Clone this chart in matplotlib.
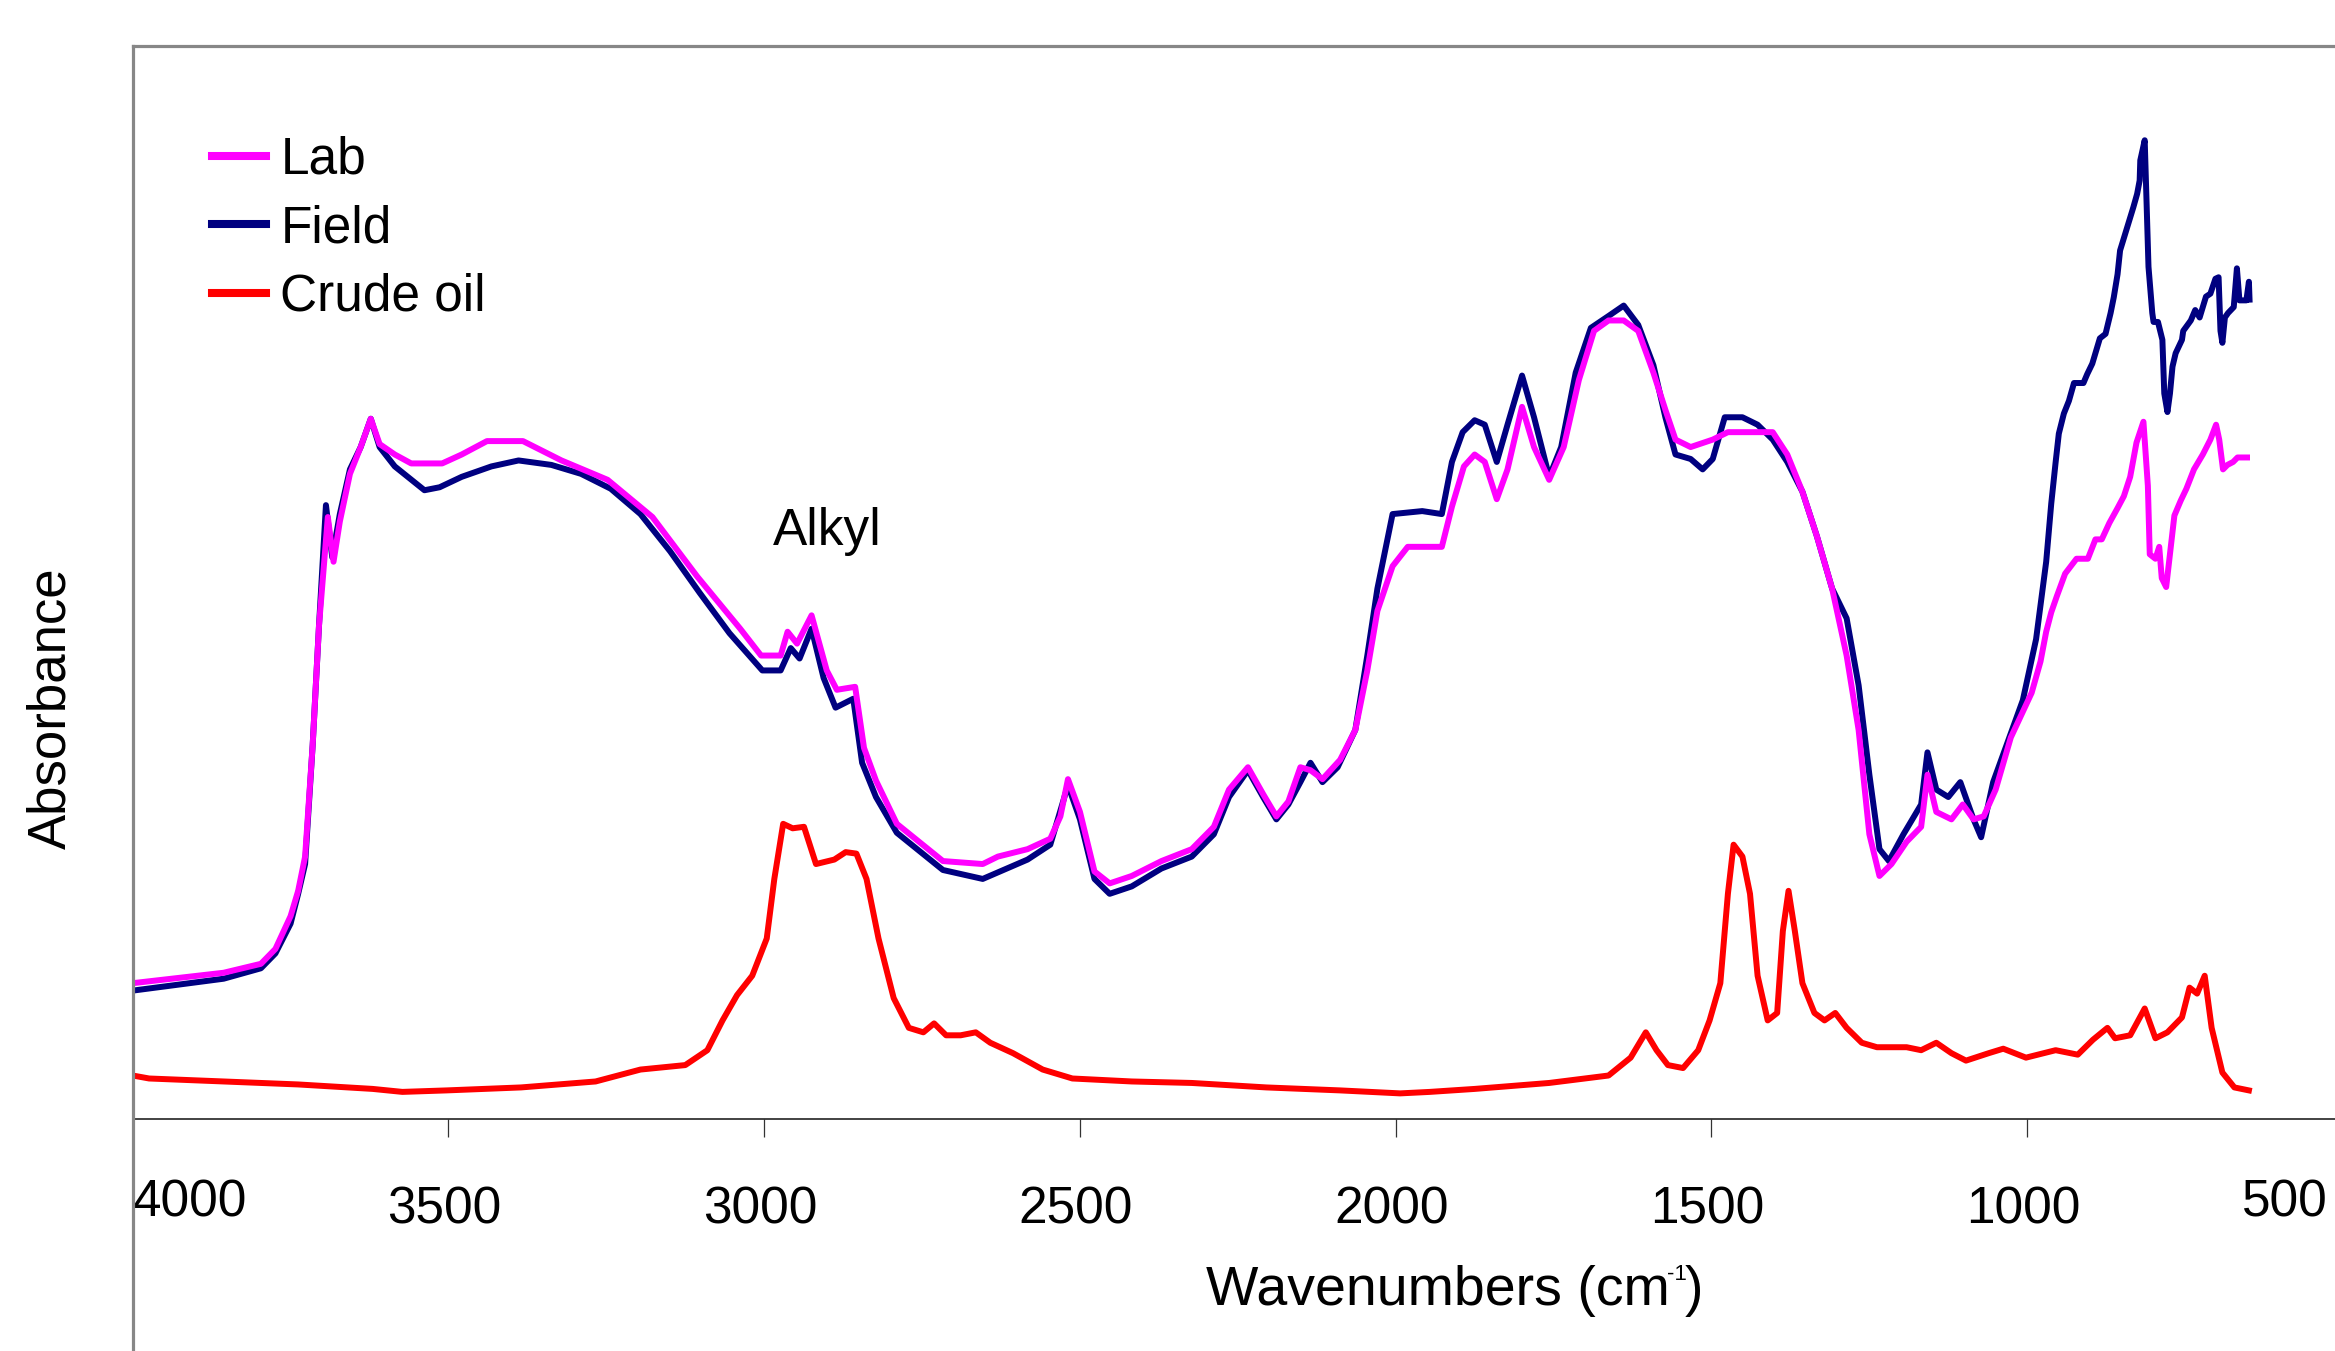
import matplotlib
matplotlib.use('Agg')
import matplotlib.pyplot as plt
from matplotlib.lines import Line2D
from matplotlib import transforms

plt.rcParams['font.family'] = ['Liberation Sans', 'DejaVu Sans']

# ---------------- data ----------------
field_wn = [4000, 3856, 3797, 3774, 3750, 3738, 3727, 3715, 3705, 3694, 3684, 3672, 3656, 3639, 3623, 3609, 3585,
            3538, 3514, 3479, 3432, 3389, 3337, 3290, 3243, 3196, 3149, 3102, 3055, 3003, 2974, 2958, 2944, 2925,
            2906, 2887, 2859, 2845, 2823, 2790, 2717, 2654, 2583, 2547, 2519, 2500, 2477, 2453, 2418, 2371, 2323,
            2288, 2264, 2234, 2210, 2189, 2170, 2151, 2135, 2116, 2092, 2064, 2045, 2029, 2005, 1958, 1927, 1911,
            1894, 1875, 1859, 1840, 1823, 1800, 1781, 1757, 1738, 1715, 1691, 1663, 1639, 1616, 1592, 1573, 1557,
            1533, 1514, 1498, 1479, 1451, 1427, 1403, 1380, 1356, 1333, 1309, 1286, 1267, 1250, 1234, 1219, 1196,
            1168, 1158, 1144, 1125, 1106, 1085, 1073, 1054,
            1007, 986, 970, 962, 955, 950, 942, 934, 926, 911, 905, 897, 892, 885, 876, 868, 863, 857, 853, 845,
            840, 832, 826, 822, 821, 814, 808, 802, 800, 793, 786, 783, 778, 774, 770, 765, 755, 753, 741, 734,
            727, 717, 710, 702, 697, 694, 691, 687, 682, 673, 668, 664, 653, 649, 648]
field_ab = [0.086, 0.094, 0.101, 0.111, 0.131, 0.151, 0.171, 0.251, 0.331, 0.412, 0.377, 0.406, 0.436, 0.451, 0.470,
            0.451, 0.438, 0.422, 0.424, 0.431, 0.438, 0.442, 0.439, 0.433, 0.423, 0.406, 0.381, 0.353, 0.326, 0.301,
            0.301, 0.316, 0.309, 0.329, 0.296, 0.276, 0.282, 0.239, 0.216, 0.192, 0.167, 0.161, 0.174, 0.184, 0.224,
            0.201, 0.161, 0.151, 0.156, 0.168, 0.176, 0.191, 0.216, 0.234, 0.216, 0.201, 0.211, 0.226, 0.239, 0.226,
            0.236, 0.261, 0.311, 0.356, 0.406, 0.408, 0.406, 0.441, 0.461, 0.469, 0.466, 0.441, 0.466, 0.499, 0.471,
            0.431, 0.451, 0.501, 0.531, 0.539, 0.546, 0.533, 0.506, 0.471, 0.446, 0.443, 0.436, 0.443, 0.471, 0.471,
            0.466, 0.456, 0.441, 0.421, 0.391, 0.356, 0.336, 0.291, 0.231, 0.181, 0.173, 0.191, 0.211, 0.246, 0.221,
            0.216, 0.226, 0.201, 0.189, 0.226,
            0.281, 0.322, 0.374, 0.413, 0.441, 0.460, 0.4735, 0.482, 0.494, 0.494, 0.500, 0.507, 0.514, 0.524, 0.527,
            0.541, 0.5515, 0.567, 0.583, 0.594, 0.601, 0.612, 0.621, 0.630, 0.6435, 0.657, 0.572, 0.541, 0.535, 0.535,
            0.523, 0.487, 0.4745, 0.487, 0.505, 0.514, 0.523, 0.529, 0.536, 0.543, 0.538, 0.552, 0.554, 0.564, 0.565,
            0.529, 0.521, 0.538, 0.541, 0.545, 0.571, 0.5495, 0.5495, 0.562, 0.550]

lab_wn = [4000, 3856, 3797, 3774, 3750, 3738, 3727, 3715, 3705, 3691, 3682, 3672, 3656, 3639, 3623, 3609, 3585, 3559,
          3510, 3479, 3439, 3382, 3321, 3248, 3177, 3106, 3038, 3005, 2974, 2963, 2948, 2925, 2901, 2885, 2856, 2842,
          2823, 2790, 2717, 2654, 2630, 2583, 2547, 2531, 2519, 2500, 2477, 2453, 2418, 2371, 2323, 2288, 2264, 2234,
          2210, 2189, 2170, 2151, 2135, 2116, 2088, 2064, 2045, 2029, 2005, 1981, 1927, 1911, 1892, 1875, 1859, 1840,
          1823, 1800, 1781, 1757, 1734, 1710, 1686, 1663, 1639, 1616, 1592, 1573, 1557, 1533, 1498, 1474, 1403, 1380,
          1356, 1333, 1309, 1286, 1267, 1250, 1234, 1215, 1191, 1168, 1158, 1144, 1120, 1102, 1085, 1069, 1050, 1026,
          993, 979, 970, 962, 953, 940, 922, 904, 892, 882, 870, 857, 847, 837, 827, 816, 809, 806, 797, 791, 787,
          780, 774, 767, 757, 748, 736, 722, 710, 701, 696, 690, 683, 674, 667, 652]
lab_ab = [0.091, 0.098, 0.104, 0.114, 0.136, 0.153, 0.176, 0.251, 0.331, 0.404, 0.374, 0.401, 0.433, 0.451, 0.470,
          0.453, 0.446, 0.440, 0.440, 0.446, 0.455, 0.455, 0.442, 0.429, 0.404, 0.364, 0.329, 0.311, 0.311, 0.327,
          0.319, 0.338, 0.301, 0.288, 0.290, 0.249, 0.227, 0.198, 0.173, 0.171, 0.176, 0.181, 0.188, 0.203, 0.228,
          0.206, 0.166, 0.158, 0.163, 0.173, 0.181, 0.196, 0.221, 0.236, 0.218, 0.203, 0.213, 0.236, 0.234, 0.228,
          0.241, 0.261, 0.301, 0.341, 0.371, 0.384, 0.384, 0.411, 0.438, 0.446, 0.441, 0.416, 0.436, 0.478, 0.451,
          0.429, 0.451, 0.496, 0.529, 0.536, 0.536, 0.529, 0.501, 0.476, 0.456, 0.451, 0.456, 0.461, 0.461, 0.446,
          0.421, 0.391, 0.356, 0.311, 0.261, 0.191, 0.163, 0.171, 0.186, 0.196, 0.231, 0.206, 0.201, 0.211, 0.201,
          0.203, 0.221, 0.256, 0.286, 0.307, 0.327, 0.340, 0.351, 0.366, 0.376, 0.376, 0.389, 0.389, 0.400, 0.410,
          0.418, 0.431, 0.454, 0.468, 0.425, 0.379, 0.376, 0.384, 0.363, 0.357, 0.379, 0.405, 0.415, 0.423, 0.436,
          0.446, 0.456, 0.466, 0.456, 0.436, 0.439, 0.441, 0.444, 0.444]

crude_wn = [4000, 3974, 3856, 3738, 3620, 3573, 3503, 3385, 3267, 3196, 3125, 3090, 3066, 3043, 3019, 2996, 2984,
            2970, 2955, 2937, 2918, 2889, 2871, 2854, 2838, 2819, 2795, 2771, 2748, 2731, 2712, 2689, 2665, 2642,
            2606, 2559, 2512, 2418, 2323, 2205, 2088, 1993, 1946, 1875, 1757, 1663, 1628, 1604, 1587, 1569, 1545,
            1521, 1503, 1486, 1474, 1465, 1451, 1439, 1427, 1411, 1396, 1387, 1378, 1368, 1356, 1337, 1321, 1304,
            1286, 1262, 1238, 1191, 1168, 1144, 1120, 1097, 1061, 1038, 1002, 955, 920, 896, 873, 861, 837, 814, 797,
            778, 755, 743, 731, 719, 708, 691, 672, 649]
crude_ab = [0.029, 0.027, 0.025, 0.023, 0.020, 0.018, 0.019, 0.021, 0.025, 0.033, 0.036, 0.046, 0.066, 0.083, 0.096,
            0.121, 0.161, 0.198, 0.195, 0.196, 0.171, 0.174, 0.179, 0.178, 0.161, 0.121, 0.081, 0.061, 0.058, 0.064,
            0.056, 0.056, 0.058, 0.051, 0.044, 0.033, 0.027, 0.025, 0.024, 0.021, 0.019, 0.017, 0.018, 0.020, 0.024,
            0.029, 0.041, 0.058, 0.046, 0.036, 0.034, 0.046, 0.066, 0.091, 0.151, 0.184, 0.176, 0.151, 0.096, 0.066,
            0.071, 0.126, 0.153, 0.126, 0.091, 0.071, 0.066, 0.071, 0.061, 0.051, 0.048, 0.048, 0.046, 0.051, 0.044,
            0.039, 0.044, 0.047, 0.041, 0.046, 0.043, 0.053, 0.061, 0.054, 0.056, 0.074, 0.054, 0.058, 0.068, 0.088,
            0.084, 0.096, 0.061, 0.031, 0.021, 0.019]

tick_values = [4000, 3500, 3000, 2500, 2000, 1500, 1000, 500]
tick_labels = ['4000', '3500', '3000', '2500', '2000', '1500', '1000', '500']
series_labels = ['Lab', 'Field', 'Crude oil']
series_colors = ['#FF00FF', '#000080', '#FF0000']

# ---------------- figure ----------------
W, H = 2335, 1351
fig = plt.figure(figsize=(W / 100, H / 100), dpi=100)
ax_l = 132.7 / W
ax_r = 2343 / W
ax_b = (H - 1118.7) / H
ax_t = (H - 45.7) / H
ax = fig.add_axes([ax_l, ax_b, ax_r - ax_l, ax_t - ax_b])
ax.set_xlim(4000, 500)
ax.set_ylim(0, 0.7205)

lw = 4.3
l_crude, = ax.plot(crude_wn, crude_ab, color=series_colors[2], lw=lw, solid_joinstyle='round')
l_field, = ax.plot(field_wn, field_ab, color=series_colors[1], lw=lw, solid_joinstyle='round')
l_lab, = ax.plot(lab_wn, lab_ab, color=series_colors[0], lw=lw, solid_joinstyle='round')

gray = '#878787'
for s in ['left', 'right']:
    ax.spines[s].set_visible(False)
ax.spines['top'].set_color(gray)
ax.spines['top'].set_linewidth(2.3)
ax.spines['bottom'].set_color('#222222')
ax.spines['bottom'].set_linewidth(1.2)
fig.add_artist(Line2D([ax_l, ax_l], [0, ax_t], transform=fig.transFigure, color=gray, lw=2.3))

ax.set_xticks(tick_values)
ax.set_yticks([])
ax.tick_params(axis='x', direction='out', length=13, width=0.9, color='#333333', labelbottom=False)

xtr = ax.get_xaxis_transform()
for v, t in zip(tick_values, tick_labels):
    if v == tick_values[0]:
        ax.text(v, -0.0553, t, transform=xtr, ha='left', va='top', fontsize=37)
    elif v == tick_values[-1]:
        tr = transforms.offset_copy(xtr, fig=fig, x=-15, y=0, units='dots')
        ax.text(v, -0.0553, t, transform=tr, ha='right', va='top', fontsize=37, clip_on=False)
    else:
        tr = transforms.offset_copy(xtr, fig=fig, x=-4, y=0, units='dots')
        ax.text(v, -0.0618, t, transform=tr, ha='center', va='top', fontsize=37)

# x-axis title with small raised "-1"
renderer = fig.canvas.get_renderer()
t1 = fig.text(1206 / W, 1 - 1305 / H, 'Wavenumbers (cm', ha='left', va='baseline', fontsize=40)
bb1 = t1.get_window_extent(renderer)
t2 = fig.text((bb1.x1 - 3) / W, 1 - 1280 / H, '-1', ha='left', va='baseline', fontsize=16)
bb2 = t2.get_window_extent(renderer)
fig.text((bb2.x1 - 2) / W, 1 - 1305 / H, ')', ha='left', va='baseline', fontsize=40)

fig.text(51.5 / W, 1 - 708 / H, 'Absorbance', rotation=90, ha='center', va='center', fontsize=38)

ax.text(2986, 0.385, 'Alkyl', ha='left', va='baseline', fontsize=37)

leg = fig.legend([l_lab, l_field, l_crude], series_labels, loc='upper left',
                 bbox_to_anchor=(212 / W, 1 - 136 / H), bbox_transform=fig.transFigure,
                 frameon=False, fontsize=37, handlelength=1.05, handletextpad=0.28,
                 borderpad=0, borderaxespad=0, labelspacing=0.375)
for ln in leg.get_lines():
    ln.set_linewidth(5.8)

fig.savefig('out.png', dpi=100, facecolor='white')
